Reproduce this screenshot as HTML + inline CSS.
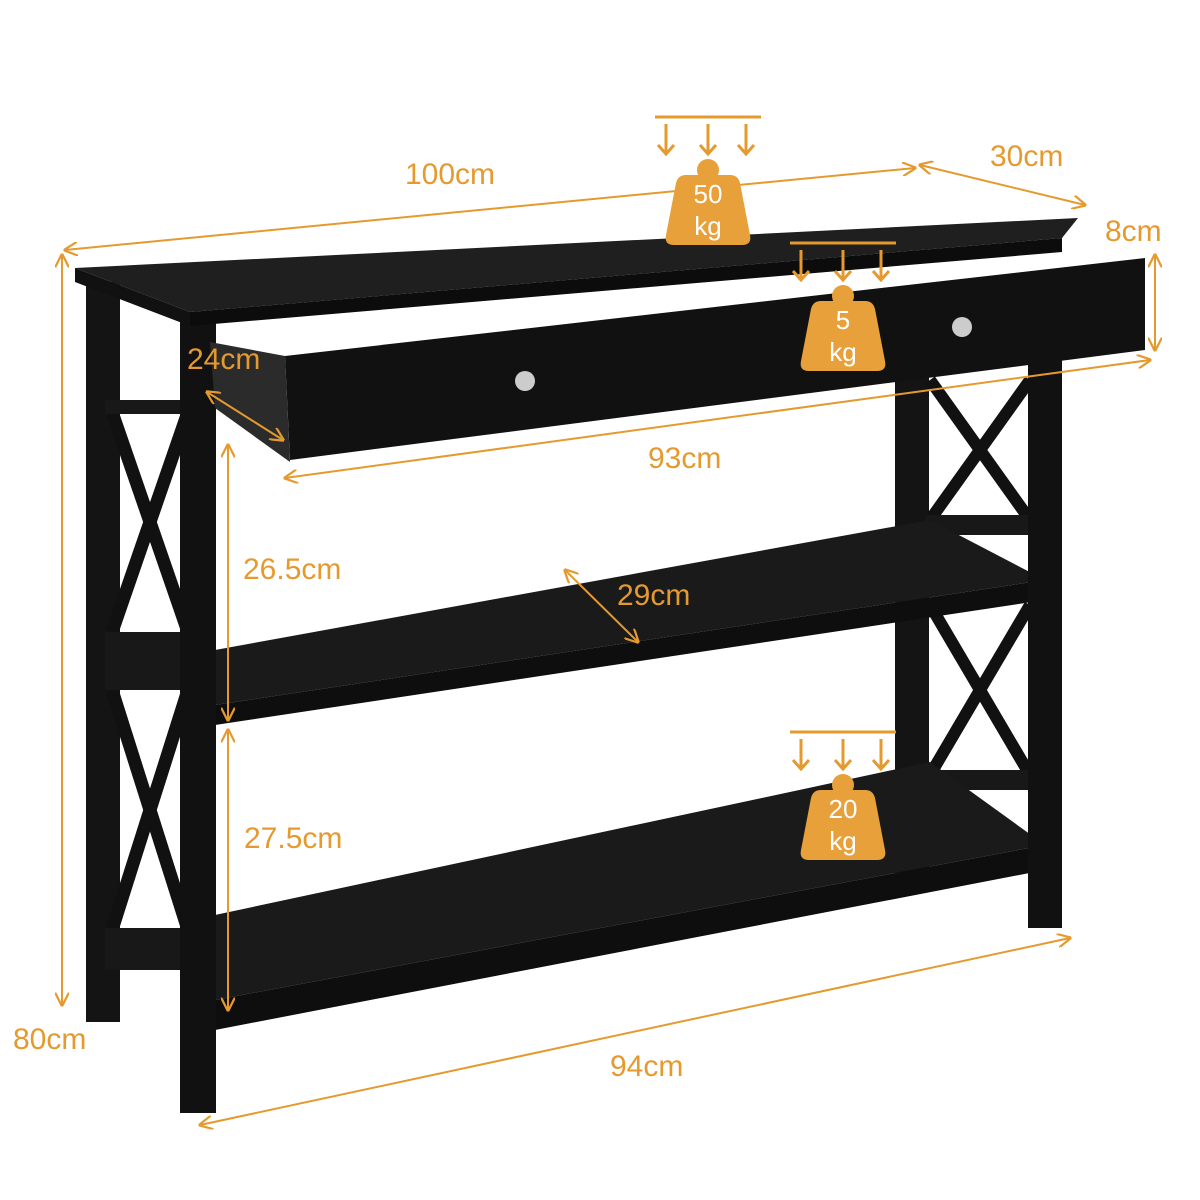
<!DOCTYPE html>
<html><head><meta charset="utf-8"><style>
html,body{margin:0;padding:0;background:#fff;}
svg{display:block;}
text{font-family:"Liberation Sans",sans-serif;}
</style></head><body>
<svg width="1200" height="1200" viewBox="0 0 1200 1200" xmlns="http://www.w3.org/2000/svg">
<defs>
<marker id="a" viewBox="0 0 10 10" refX="9" refY="5" markerWidth="7" markerHeight="7" orient="auto-start-reverse"><path d="M0,0 L10,5 L0,10" fill="none" stroke="#e59a2f" stroke-width="1.6"/></marker>
<g id="w">
<line x1="-53" y1="0" x2="53" y2="0" stroke="#e59a2f" stroke-width="3"/>
<g stroke="#e59a2f" stroke-width="3" fill="none">
<line x1="-42" y1="7" x2="-42" y2="36"/><path d="M-50,28 L-42,37 L-34,28"/>
<line x1="0" y1="7" x2="0" y2="36"/><path d="M-8,28 L0,37 L8,28"/>
<line x1="38" y1="7" x2="38" y2="36"/><path d="M30,28 L38,37 L46,28"/>
</g>
<circle cx="0" cy="53" r="11" fill="#e8a03a"/>
<path d="M-22,58 L22,58 Q30,58 32,66 L42,118 Q44,128 34,128 L-34,128 Q-44,128 -42,118 L-32,66 Q-30,58 -22,58 Z" fill="#e8a03a"/>
</g>
</defs>

<!-- left back leg -->
<rect x="86" y="282" width="34" height="740" fill="#141414"/>
<!-- left side X frames -->
<g stroke="#111" stroke-width="13">
<line x1="112" y1="412" x2="188" y2="632"/><line x1="188" y1="412" x2="112" y2="632"/>
<line x1="112" y1="690" x2="188" y2="930"/><line x1="188" y1="690" x2="112" y2="930"/>
</g>
<rect x="105" y="400" width="80" height="14" fill="#181818"/>
<rect x="105" y="632" width="80" height="58" fill="#181818"/>
<rect x="105" y="928" width="80" height="42" fill="#181818"/>
<!-- right back leg & X frames -->
<rect x="895" y="370" width="34" height="510" fill="#141414"/>
<g stroke="#111" stroke-width="12">
<line x1="930" y1="380" x2="1030" y2="520"/><line x1="1030" y1="380" x2="930" y2="520"/>
<line x1="930" y1="605" x2="1030" y2="775"/><line x1="1030" y1="605" x2="930" y2="775"/>
</g>
<rect x="925" y="515" width="110" height="20" fill="#181818"/>
<rect x="925" y="770" width="110" height="20" fill="#181818"/>
<!-- middle shelf -->
<polygon points="215,650 930,520 1045,580 215,705" fill="#1a1a1a"/>
<polygon points="215,705 1045,580 1045,600 215,725" fill="#0e0e0e"/>
<!-- bottom shelf -->
<polygon points="215,915 930,762 1045,845 215,1000" fill="#1a1a1a"/>
<polygon points="215,1000 1045,845 1045,870 215,1030" fill="#0e0e0e"/>
<!-- right front leg -->
<rect x="1028" y="350" width="34" height="578" fill="#111"/>
<!-- left front leg -->
<rect x="180" y="318" width="36" height="795" fill="#111"/>
<!-- top -->
<polygon points="75,268 1078,218 1062,238 190,312" fill="#1f1f1f"/>
<polygon points="75,268 190,312 190,326 75,282" fill="#111"/>
<polygon points="190,312 1062,238 1062,252 190,326" fill="#0c0c0c"/>
<!-- drawer -->
<polygon points="210,342 285,356 290,462 215,408" fill="#2b2b2b"/>
<polygon points="285,356 1145,258 1145,350 290,460" fill="#111"/>
<circle cx="525" cy="381" r="10" fill="#ccc"/>
<circle cx="962" cy="327" r="10" fill="#ccc"/>

<!-- dimension lines -->
<g stroke="#e59a2f" stroke-width="2" fill="none" marker-start="url(#a)" marker-end="url(#a)">
<line x1="65" y1="250" x2="915" y2="168"/>
<line x1="920" y1="165" x2="1085" y2="205"/>
<line x1="1155" y1="255" x2="1155" y2="350"/>
<line x1="285" y1="478" x2="1150" y2="360"/>
<line x1="207" y1="392" x2="283" y2="440"/>
<line x1="228" y1="445" x2="228" y2="720"/>
<line x1="228" y1="730" x2="228" y2="1010"/>
<line x1="565" y1="570" x2="638" y2="642"/>
<line x1="62" y1="255" x2="62" y2="1005"/>
<line x1="200" y1="1125" x2="1070" y2="938"/>
</g>
<g fill="#e59a2f" font-size="30">
<text x="405" y="184">100cm</text>
<text x="990" y="166">30cm</text>
<text x="1105" y="241">8cm</text>
<text x="187" y="369">24cm</text>
<text x="648" y="468">93cm</text>
<text x="243" y="579">26.5cm</text>
<text x="617" y="605">29cm</text>
<text x="244" y="848">27.5cm</text>
<text x="13" y="1049">80cm</text>
<text x="610" y="1076">94cm</text>
</g>
<!-- weights -->
<use href="#w" x="708" y="117"/>
<use href="#w" x="843" y="243"/>
<use href="#w" x="843" y="732"/>
<g fill="#fff" font-size="26" text-anchor="middle">
<text x="708" y="203">50</text><text x="708" y="235">kg</text>
<text x="843" y="329">5</text><text x="843" y="361">kg</text>
<text x="843" y="818">20</text><text x="843" y="850">kg</text>
</g>
</svg>
</body></html>
